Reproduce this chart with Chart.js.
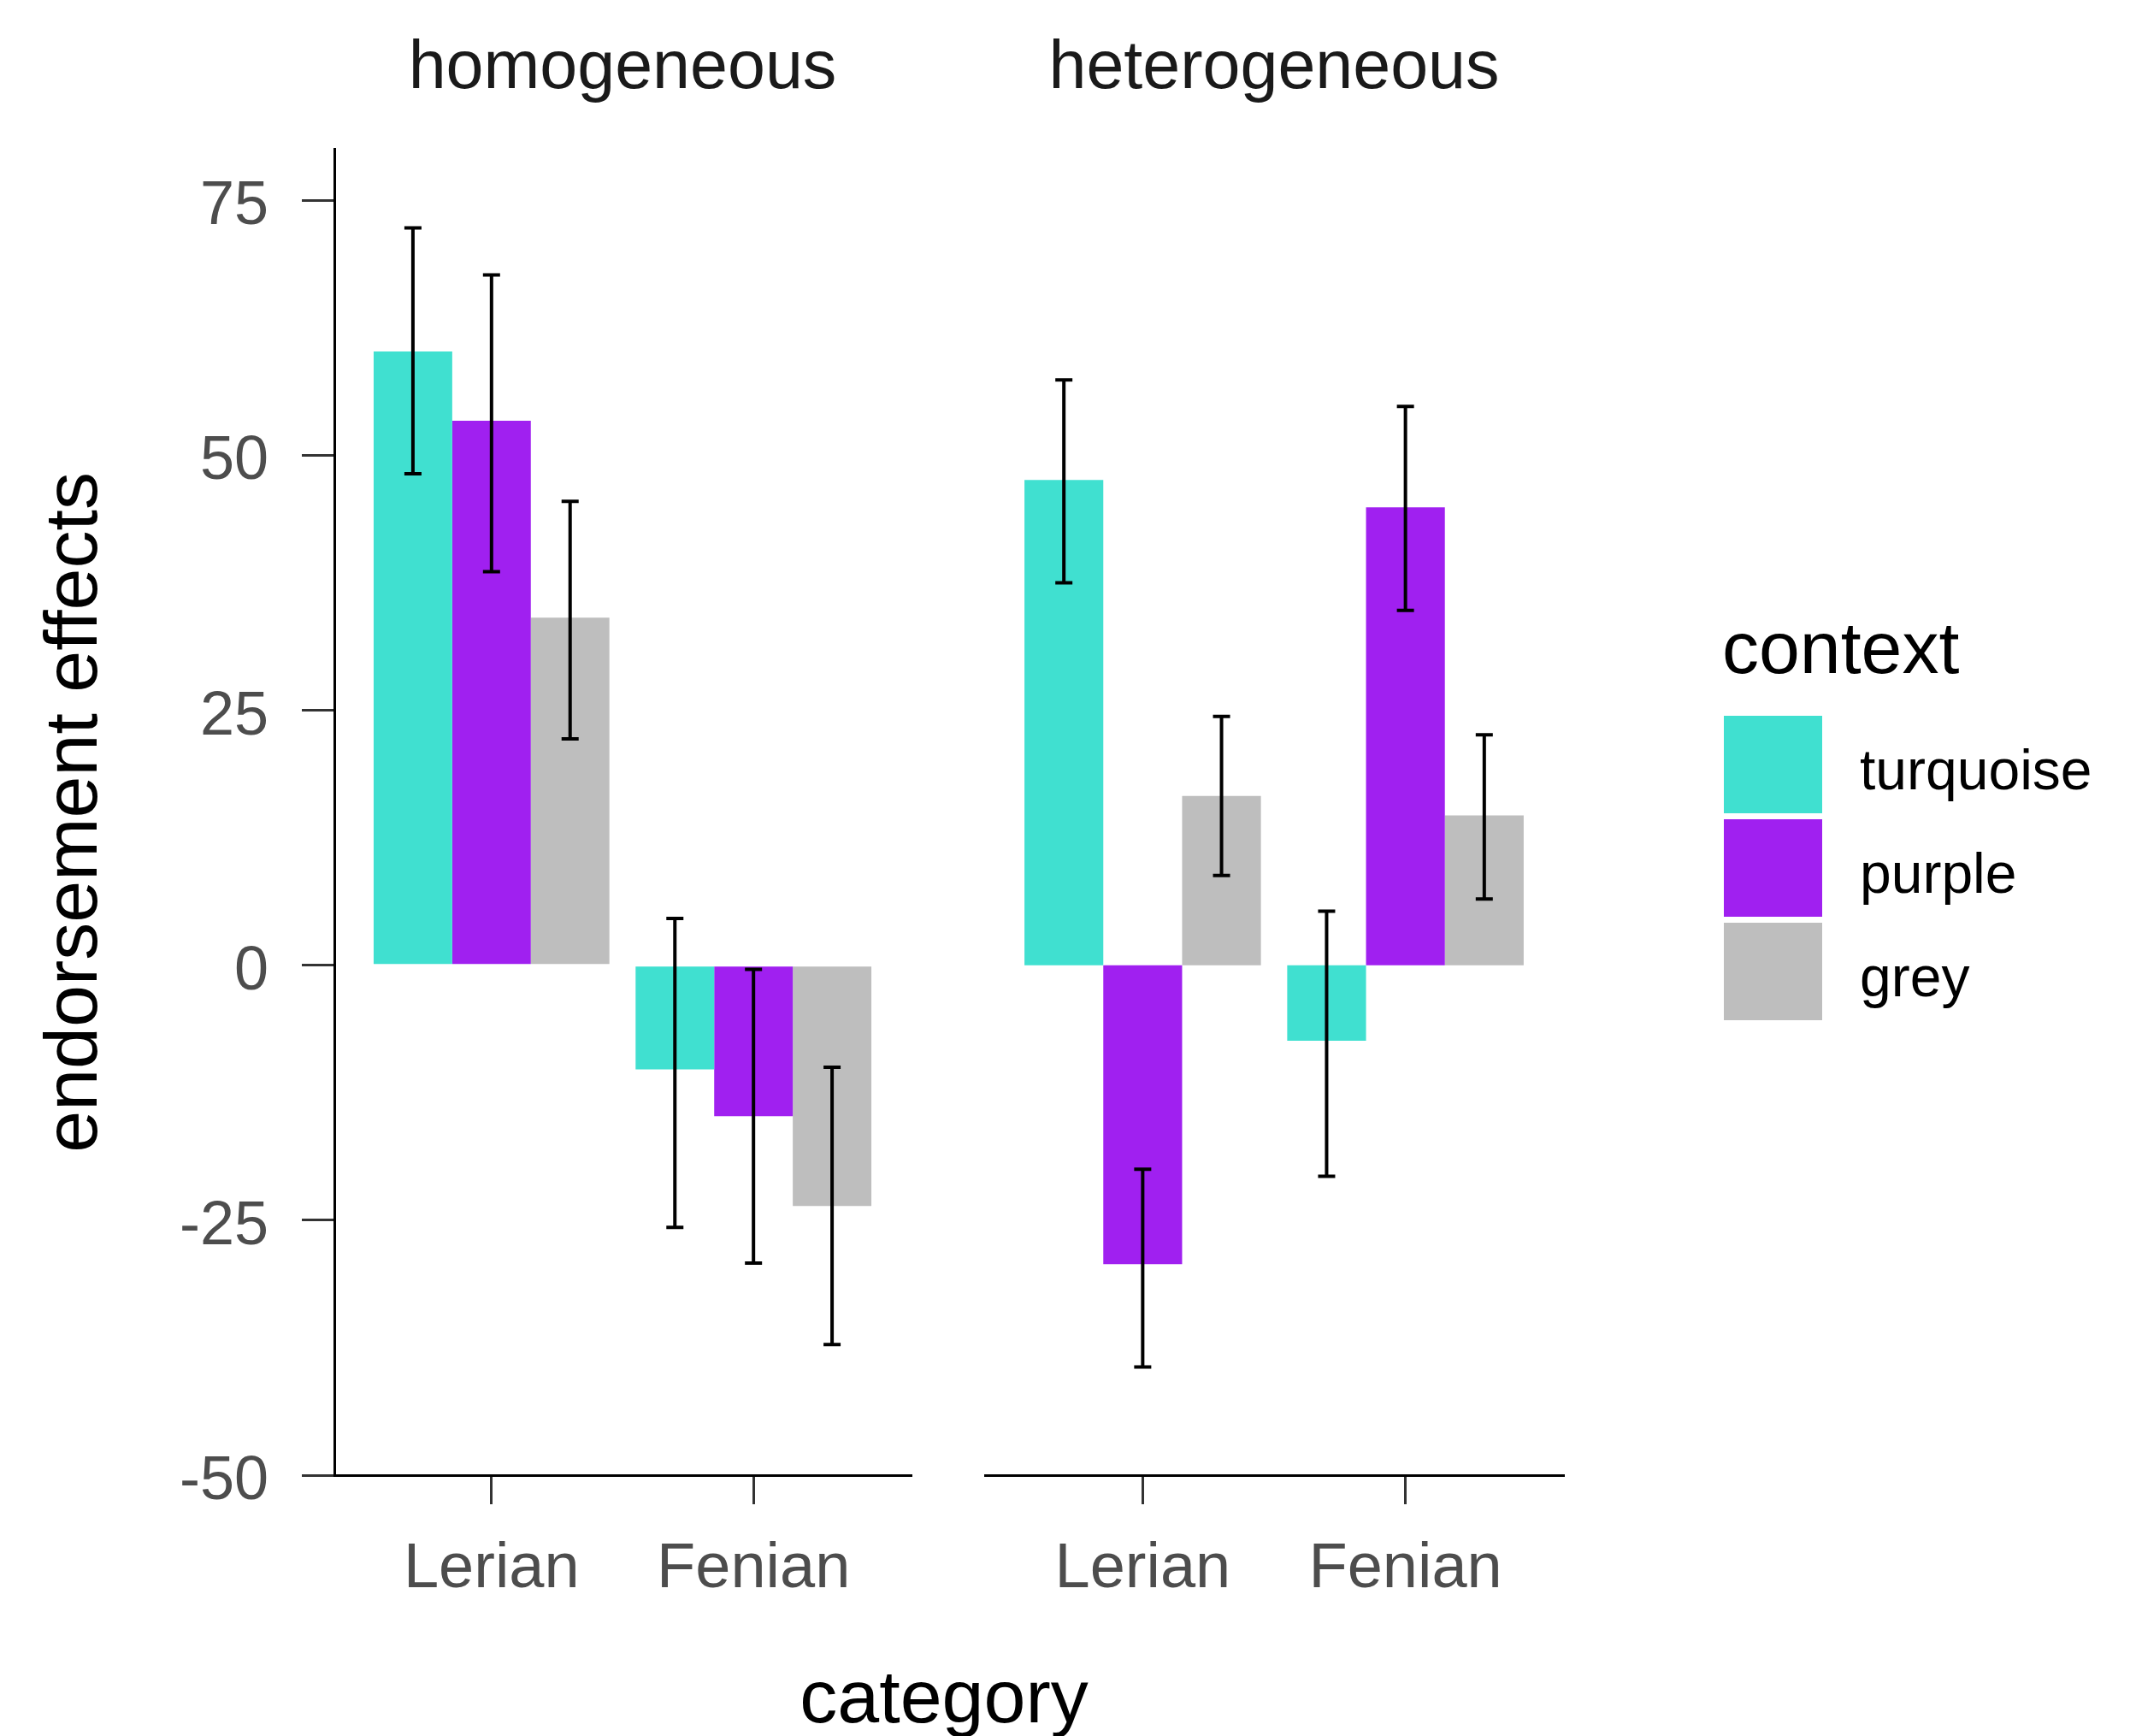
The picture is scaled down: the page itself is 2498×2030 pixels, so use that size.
<!DOCTYPE html>
<html>
<head>
<meta charset="utf-8">
<script src="https://cdn.jsdelivr.net/npm/chart.js@4/dist/chart.umd.min.js"></script>
<style>
  html, body { margin: 0; padding: 0; background: #fff; }
  #page { position: relative; width: 2498px; height: 2030px; font-family: "Liberation Sans", Arial, sans-serif; }
  canvas { position: absolute; top: 0; }
  .txt { position: absolute; line-height: 1; white-space: nowrap; color: #000; }
  .key { position: absolute; width: 115px; height: 114px; }
</style>
</head>
<body>
<div id="page">
  <canvas id="hom" width="1100" height="1900" style="left:0"></canvas>
  <canvas id="het" width="800" height="1900" style="left:1100px"></canvas>
  <div class="txt" id="xtitle" style="left:804px; top:1940px; width:600px; text-align:center; font-size:88px;"></div>
  <div id="legend"></div>
</div>
<script>
const panelNames   = ["homogeneous", "heterogeneous"]
const categories   = ["Lerian", "Fenian"]
const contexts     = ["turquoise", "purple", "grey"]
const yTicks       = [-50, -25, 0, 25, 50, 75]

// one row per context, one value per category
const homMean = [[60.2, -10.2], [53.4, -14.8], [34.1, -23.6]]
const homLow  = [[48.2, -25.7], [38.6, -29.2], [22.2, -37.2]]
const homHigh = [[72.3,   4.6], [67.7,  -0.4], [45.5, -10.0]]

const hetMean = [[47.6,  -7.4], [-29.3, 44.9], [16.6, 14.7]]
const hetLow  = [[37.5, -20.7], [-39.4, 34.8], [ 8.8,  6.5]]
const hetHigh = [[57.4,   5.3], [-20.0, 54.8], [24.4, 22.6]]

const colours   = ["#40E0D0", "#A020F0", "#BEBEBE"]
const fontName  = "'Liberation Sans', Arial, sans-serif"
const tickColor = "#4D4D4D"

const errorBars = {
  id: "errorBars",
  afterDatasetsDraw(chart) {
    const { ctx } = chart
    const y = chart.scales.y
    ctx.save()
    ctx.strokeStyle = "#000"
    ctx.lineWidth = 4
    chart.data.datasets.forEach((ds, d) => {
      chart.getDatasetMeta(d).data.forEach((bar, i) => {
        const top = y.getPixelForValue(ds.high[i])
        const bot = y.getPixelForValue(ds.low[i])
        const cap = 10
        ctx.beginPath()
        ctx.moveTo(bar.x, top); ctx.lineTo(bar.x, bot)
        ctx.moveTo(bar.x - cap, top); ctx.lineTo(bar.x + cap, top)
        ctx.moveTo(bar.x - cap, bot); ctx.lineTo(bar.x + cap, bot)
        ctx.stroke()
      })
    })
    ctx.restore()
  }
}

function makePanel(id, title, mean, low, high, showY, padding) {
  const datasets = contexts.map((name, c) => ({
    label: name,
    data: categories.map((cat, i) => ({ x: i + 1, y: mean[c][i] })),
    low: low[c],
    high: high[c],
    backgroundColor: colours[c],
    borderWidth: 0,
    categoryPercentage: 0.9,
    barPercentage: 1.0
  }))

  return new Chart(document.getElementById(id), {
    type: "bar",
    data: { datasets },
    plugins: [errorBars],
    options: {
      responsive: false,
      animation: false,
      devicePixelRatio: 1,
      layout: { padding },
      plugins: {
        legend: { display: false },
        tooltip: { enabled: false },
        title: {
          display: true,
          fullSize: false,
          text: title,
          color: "#1A1A1A",
          font: { family: fontName, size: 79, weight: "normal", lineHeight: 1.2 },
          padding: { top: 34, bottom: 46 }
        }
      },
      scales: {
        x: {
          type: "linear",
          min: 0.4,
          max: 2.6,
          offset: false,
          afterBuildTicks: s => { s.ticks = categories.map((c, i) => ({ value: i + 1 })) },
          afterFit: s => { s.height = 175 },
          grid: { offset: false, drawOnChartArea: false, drawTicks: true, tickLength: 34, color: "#333", lineWidth: 3 },
          border: { display: true, color: "#000", width: 3 },
          ticks: {
            color: tickColor,
            padding: 32,
            maxRotation: 0,
            autoSkip: false,
            font: { family: fontName, size: 74 },
            callback: v => categories[v - 1]
          }
        },
        y: {
          display: showY,
          min: -50,
          max: 80,
          afterBuildTicks: s => { s.ticks = yTicks.map(v => ({ value: v })) },
          afterFit: s => { s.width = showY ? 391 : 0 },
          grid: { drawOnChartArea: false, drawTicks: true, tickLength: 38, color: "#333", lineWidth: 3 },
          border: { display: true, color: "#000", width: 3 },
          ticks: {
            color: tickColor,
            padding: 39,
            labelOffset: 8,
            font: { family: fontName, size: 72 }
          },
          title: {
            display: true,
            text: "endorsement effects",
            color: "#000",
            font: { family: fontName, size: 88, lineHeight: 1.2 },
            padding: { top: 36, bottom: 0 }
          }
        }
      }
    }
  })
}

makePanel("hom", panelNames[0], homMean, homLow, homHigh, true,  { left: 0,  right: 35, top: 0, bottom: 0 })
makePanel("het", panelNames[1], hetMean, hetLow, hetHigh, false, { left: 52, right: 72, top: 0, bottom: 0 })

document.getElementById("xtitle").textContent = "category"

// legend
const legend = document.getElementById("legend")
const title = document.createElement("div")
title.className = "txt"
title.style.cssText = "left:2014px; top:714px; font-size:86px;"
title.textContent = "context"
legend.appendChild(title)

contexts.forEach((name, c) => {
  const top = 837 + c * 121
  const key = document.createElement("div")
  key.className = "key"
  key.style.cssText = `left:2016px; top:${top}px; background:${colours[c]};`
  legend.appendChild(key)

  const lab = document.createElement("div")
  lab.className = "txt"
  lab.style.cssText = `left:2175px; top:${top + 57 + 29 - 56}px; font-size:66px;`
  lab.textContent = name
  legend.appendChild(lab)
})
</script>
</body>
</html>
